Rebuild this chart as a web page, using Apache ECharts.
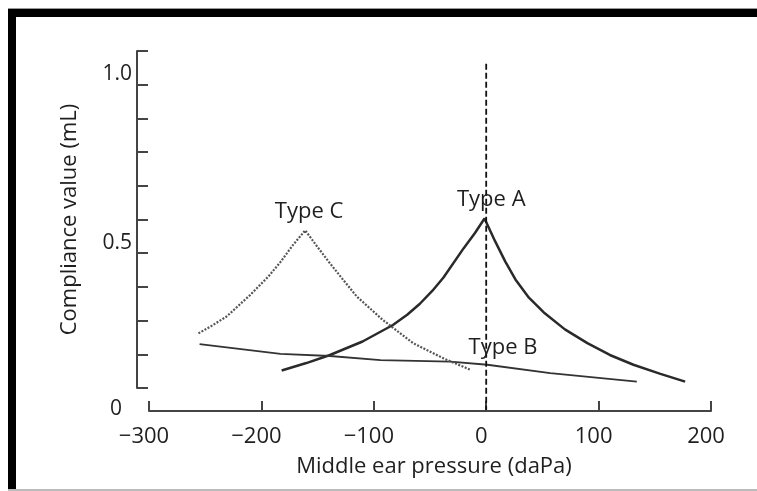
<!DOCTYPE html>
<html>
<head>
<meta charset="utf-8">
<script src="https://cdn.jsdelivr.net/npm/echarts@6/dist/echarts.min.js"></script>
<style>
html,body{margin:0;padding:0;background:#fff;}
#c{width:757px;height:491px;}
</style>
</head>
<body>
<div id="c"></div>
<script>
// ---- data ----
const xTicks = [-300, -200, -100, 0, 100, 200];
const yTickLabels = ['1.0', '0.5'];

const typeA_x = [-182, -160, -139, -110, -83, -70, -59, -48, -38, -20, -10, -1.5, 8, 17, 26, 38, 51, 70, 90, 110, 131, 155, 177];
const typeA_y = [0.152, 0.174, 0.198, 0.238, 0.287, 0.318, 0.350, 0.388, 0.428, 0.515, 0.560, 0.603, 0.535, 0.475, 0.422, 0.368, 0.325, 0.274, 0.233, 0.198, 0.169, 0.142, 0.119];

const typeB_x = [-255, -183, -139, -94, -32, 1, 57, 134];
const typeB_y = [0.230, 0.201, 0.195, 0.183, 0.178, 0.169, 0.144, 0.119];

const typeC_x = [-256, -244, -231, -210, -194, -183, -172, -161, -150, -139, -127, -115, -92, -65, -38, -14];
const typeC_y = [0.262, 0.285, 0.312, 0.376, 0.430, 0.474, 0.524, 0.568, 0.518, 0.470, 0.420, 0.371, 0.302, 0.233, 0.188, 0.154];

const refLine_x = [0, 0];
const refLine_y = [1.062, 0.035];

const seriesNames = ['Type A', 'Type B', 'Type C'];
const labelAnchors = { 'Type A': [4.5, 0.66], 'Type B': [15, 0.219], 'Type C': [-157.6, 0.624] };

// ---- build ----
const zip = (xs, ys) => xs.map((x, i) => [x, ys[i]]);
const FONT = 'Open Sans';
const TXT = '#1f1f1f';

function labelMark(name) {
  return {
    symbol: 'circle', symbolSize: 0,
    label: { show: true, position: 'inside', formatter: name, color: TXT, fontFamily: FONT, fontSize: 22 },
    data: [{ coord: labelAnchors[name] }]
  };
}

const chart = echarts.init(document.getElementById('c'), null, { renderer: 'canvas' });
chart.setOption({
  backgroundColor: '#fff',
  animation: false,
  grid: { left: 149, right: 46, top: 51, bottom: 103, containLabel: false },
  xAxis: {
    type: 'value', min: xTicks[0], max: xTicks[xTicks.length - 1], interval: 100,
    position: 'bottom', offset: 23,
    axisLine: { show: true, onZero: false, lineStyle: { color: '#444', width: 2 } },
    axisTick: { show: true, inside: true, length: 10, lineStyle: { color: '#444', width: 2 } },
    axisLabel: { color: TXT, fontFamily: FONT, fontSize: 22, margin: 15, padding: [0, 10, 0, 0],
      formatter: v => (v < 0 ? '\u2212' + Math.abs(v) : String(v)) },
    splitLine: { show: false },
    name: 'Middle ear pressure (daPa)', nameLocation: 'middle', nameGap: 45,
    nameTextStyle: { color: TXT, fontFamily: FONT, fontSize: 22, padding: [0, 0, 0, 8] }
  },
  yAxis: {
    type: 'value', min: 0.1, max: 1.1, interval: 0.1,
    position: 'left', offset: 12,
    axisLine: { show: true, onZero: false, lineStyle: { color: '#444', width: 2 } },
    axisTick: { show: true, inside: true, length: 11, lineStyle: { color: '#444', width: 2 } },
    axisLabel: { color: TXT, fontFamily: FONT, fontSize: 21, margin: 5, verticalAlign: 'bottom',
      formatter: v => {
        const s = v.toFixed(1);
        return yTickLabels.indexOf(s) >= 0 ? s : '';
      } },
    splitLine: { show: false },
    name: 'Compliance value (mL)', nameLocation: 'middle', nameGap: 56,
    nameTextStyle: { color: TXT, fontFamily: FONT, fontSize: 22 }
  },
  graphic: [
    { type: 'rect', shape: { x: 8, y: 8, width: 749, height: 1 }, style: { fill: '#999' }, z: 100 },
    { type: 'rect', shape: { x: 8, y: 9, width: 749, height: 8 }, style: { fill: '#000' }, z: 100 },
    { type: 'rect', shape: { x: 8, y: 9, width: 8, height: 480 }, style: { fill: '#000' }, z: 100 },
    { type: 'rect', shape: { x: 8, y: 489, width: 749, height: 2 }, style: { fill: '#bbb' }, z: 100 },
    { type: 'text', x: 116, y: 409, style: { text: '0', fill: TXT, font: '21px "Open Sans"', textAlign: 'center', textVerticalAlign: 'middle' }, z: 100 }
  ],
  series: [
    { name: seriesNames[0], type: 'line', data: zip(typeA_x, typeA_y), showSymbol: false, symbol: 'none',
      lineStyle: { color: '#2a2a2a', width: 2.5 }, markPoint: labelMark('Type A') },
    { name: seriesNames[1], type: 'line', data: zip(typeB_x, typeB_y), showSymbol: false, symbol: 'none',
      lineStyle: { color: '#333', width: 1.8 }, markPoint: labelMark('Type B') },
    { name: seriesNames[2], type: 'line', data: zip(typeC_x, typeC_y), showSymbol: false, symbol: 'none',
      lineStyle: { color: '#555', width: 2.2, type: [2, 1.5] }, markPoint: labelMark('Type C') },
    { name: 'ref', type: 'line', data: zip(refLine_x, refLine_y), showSymbol: false, symbol: 'none', clip: false,
      lineStyle: { color: '#111', width: 1.8, type: [6, 3] } }
  ]
});
</script>
</body>
</html>
